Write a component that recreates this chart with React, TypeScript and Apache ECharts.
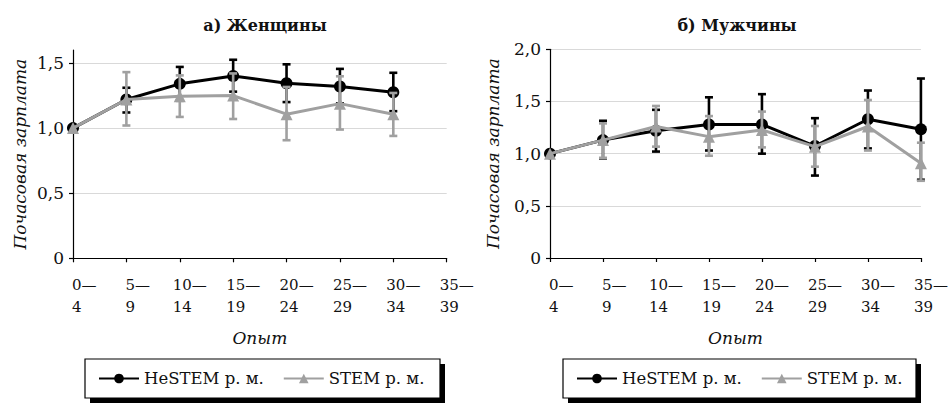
import React, { useEffect, useRef } from 'react';
import * as echarts from 'echarts';

const categories = ['0—4', '5—9', '10—14', '15—19', '20—24', '25—29', '30—34', '35—39'];
const seriesNames = ['НеSTEM р. м.', 'STEM р. м.'];
const panelTitles = ['а) Женщины', 'б) Мужчины'];
const yAxisName = 'Почасовая зарплата';
const xAxisName = 'Опыт';
const womenTicks = [0, 0.5, 1, 1.5];
const menTicks = [0, 0.5, 1, 1.5, 2];

// Women
const womenNon = [1.0, 1.22, 1.34, 1.4, 1.345, 1.32, 1.275, null];
const womenNonLow = [null, 1.12, 1.21, 1.28, 1.2, 1.19, 1.13, null];
const womenNonHigh = [null, 1.31, 1.47, 1.525, 1.49, 1.455, 1.425, null];
const womenStem = [1.0, 1.22, 1.245, 1.25, 1.107, 1.188, 1.107, null];
const womenStemLow = [null, 1.02, 1.086, 1.07, 0.907, 0.989, 0.94, null];
const womenStemHigh = [null, 1.43, 1.405, 1.42, 1.316, 1.398, 1.27, null];

// Men
const menNon = [1.0, 1.13, 1.22, 1.28, 1.28, 1.073, 1.33, 1.233];
const menNonLow = [null, 0.955, 1.02, 1.03, 1.0, 0.79, 1.05, 0.75];
const menNonHigh = [null, 1.315, 1.42, 1.54, 1.57, 1.34, 1.605, 1.72];
const menStem = [1.0, 1.13, 1.26, 1.163, 1.227, 1.067, 1.26, 0.907];
const menStemLow = [null, 0.96, 1.067, 0.98, 1.06, 0.875, 1.03, 0.74];
const menStemHigh = [null, 1.29, 1.457, 1.36, 1.403, 1.265, 1.514, 1.105];

const FONT = 'DejaVu Serif';
const BLACK = '#000000';
const GREY = '#a0a0a0';

function errData(low: (number | null)[], high: (number | null)[]) {
  const out: number[][] = [];
  low.forEach((l, i) => {
    const h = high[i];
    if (l != null && h != null) out.push([i, l, h]);
  });
  return out;
}

function errRender(color: string) {
  return (params: any, api: any) => {
    const x = api.value(0);
    const lo = api.coord([x, api.value(1)]);
    const hi = api.coord([x, api.value(2)]);
    const cap = 4;
    const style = { stroke: color, lineWidth: 2.6 };
    return {
      type: 'group',
      children: [
        { type: 'line', shape: { x1: lo[0], y1: lo[1], x2: hi[0], y2: hi[1] }, style },
        { type: 'line', shape: { x1: hi[0] - cap, y1: hi[1], x2: hi[0] + cap, y2: hi[1] }, style },
        { type: 'line', shape: { x1: lo[0] - cap, y1: lo[1], x2: lo[0] + cap, y2: lo[1] }, style },
      ],
    };
  };
}

function yFmt(v: number) {
  return v === 0 ? '0' : v.toFixed(1).replace('.', ',');
}

function xFmt(v: string) {
  const [a, b] = v.split('—');
  const s = a.length > 1 ? 'd' : 's';
  return `{${s}|${a}—}\n{${s}|${b}}`;
}

function makeXAxis(gridIndex: number) {
  const rs = { fontFamily: FONT, fontSize: 15, color: '#111', lineHeight: 22, align: 'left' };
  return {
    type: 'category',
    gridIndex,
    data: categories,
    boundaryGap: false,
    name: xAxisName,
    nameLocation: 'middle',
    nameGap: 71,
    nameTextStyle: { fontFamily: FONT, fontStyle: 'italic', fontSize: 17, color: '#111' },
    axisLine: { lineStyle: { color: BLACK, width: 1.2 } },
    axisTick: { show: true, length: 4, alignWithLabel: true, interval: 0, lineStyle: { color: BLACK, width: 1.2 } },
    axisLabel: {
      interval: 0,
      margin: 16,
      formatter: xFmt,
      rich: { s: { ...rs, width: 2 }, d: { ...rs, width: 14 } },
    },
    splitLine: { show: false },
  };
}

function makeYAxis(gridIndex: number, max: number, ticks: number[], nameGap: number) {
  return {
    type: 'value',
    gridIndex,
    min: 0,
    max,
    interval: 0.5,
    name: yAxisName,
    nameLocation: 'middle',
    nameGap,
    nameRotate: 90,
    nameTextStyle: { fontFamily: FONT, fontStyle: 'italic', fontSize: 17, color: '#111' },
    axisLine: { show: true, lineStyle: { color: BLACK, width: 1.2 } },
    axisTick: { show: true, length: 4, customValues: ticks, lineStyle: { color: BLACK, width: 1.2 } },
    axisLabel: {
      margin: 9,
      customValues: ticks,
      formatter: yFmt,
      fontFamily: FONT,
      fontSize: 17,
      color: '#111',
    },
    splitLine: { show: true, lineStyle: { color: '#d9d9d9', width: 1 } },
  };
}

function panelSeries(idx: number, non: any[], nonLow: any[], nonHigh: any[], stem: any[], stemLow: any[], stemHigh: any[]) {
  return [
    {
      type: 'custom',
      xAxisIndex: idx,
      yAxisIndex: idx,
      renderItem: errRender(BLACK),
      data: errData(nonLow, nonHigh),
      encode: { x: 0, y: [1, 2] },
      z: 2,
      silent: true,
    },
    {
      type: 'line',
      name: seriesNames[0],
      xAxisIndex: idx,
      yAxisIndex: idx,
      data: non,
      symbol: 'circle',
      symbolSize: 12,
      showAllSymbol: true,
      itemStyle: { color: BLACK },
      lineStyle: { color: BLACK, width: 3 },
      z: 3,
    },
    {
      type: 'custom',
      xAxisIndex: idx,
      yAxisIndex: idx,
      renderItem: errRender(GREY),
      data: errData(stemLow, stemHigh),
      encode: { x: 0, y: [1, 2] },
      z: 4,
      silent: true,
    },
    {
      type: 'line',
      name: seriesNames[1],
      xAxisIndex: idx,
      yAxisIndex: idx,
      data: stem,
      symbol: 'triangle',
      symbolSize: 12,
      showAllSymbol: true,
      itemStyle: { color: GREY },
      lineStyle: { color: GREY, width: 3 },
      z: 5,
    },
  ];
}

function makeLegend(left: number) {
  return {
    left,
    top: 370,
    orient: 'horizontal',
    data: seriesNames,
    itemWidth: 40,
    itemHeight: 12,
    itemGap: 19,
    padding: 0,
    selectedMode: false,
    textStyle: { fontFamily: FONT, fontSize: 16.5, color: '#111' },
  };
}

function legendBox(x: number, w: number) {
  return [
    { type: 'rect', z: 0, shape: { x: x + 5, y: 364, width: w, height: 39 }, style: { fill: BLACK } },
    { type: 'rect', z: 1, shape: { x, y: 359, width: w, height: 39 }, style: { fill: '#ffffff', stroke: BLACK, lineWidth: 1.2 } },
  ];
}

export default function App() {
  const ref = useRef<HTMLDivElement>(null);
  useEffect(() => {
    if (!ref.current) return;
    const chart = echarts.init(ref.current, null, { renderer: 'svg' });
    const titleStyle = (text: string, x: number) => ({
      type: 'text',
      x,
      y: 25,
      style: {
        text,
        textAlign: 'center',
        align: 'center',
        textVerticalAlign: 'middle',
        verticalAlign: 'middle',
        fontFamily: FONT,
        fontWeight: 'bold',
        fontSize: 16,
        fill: '#111',
      },
    });
    chart.setOption({
      animation: false,
      backgroundColor: '#ffffff',
      graphic: [
        titleStyle(panelTitles[0], 265),
        titleStyle(panelTitles[1], 737),
        ...legendBox(85, 355),
        ...legendBox(563, 353),
      ],
      grid: [
        { left: 73, top: 50, width: 373.7, height: 208.3, containLabel: false },
        { left: 550, top: 49.3, width: 372.7, height: 208.7, containLabel: false },
      ],
      xAxis: [makeXAxis(0), makeXAxis(1)],
      yAxis: [makeYAxis(0, 1.6, womenTicks, 45), makeYAxis(1, 2, menTicks, 49)],
      legend: [makeLegend(98), makeLegend(576)],
      series: [
        ...panelSeries(0, womenNon, womenNonLow, womenNonHigh, womenStem, womenStemLow, womenStemHigh),
        ...panelSeries(1, menNon, menNonLow, menNonHigh, menStem, menStemLow, menStemHigh),
      ],
    });
    return () => chart.dispose();
  }, []);
  return <div ref={ref} style={{ position: 'absolute', left: 0, top: 0, width: 951, height: 405 }} />;
}
